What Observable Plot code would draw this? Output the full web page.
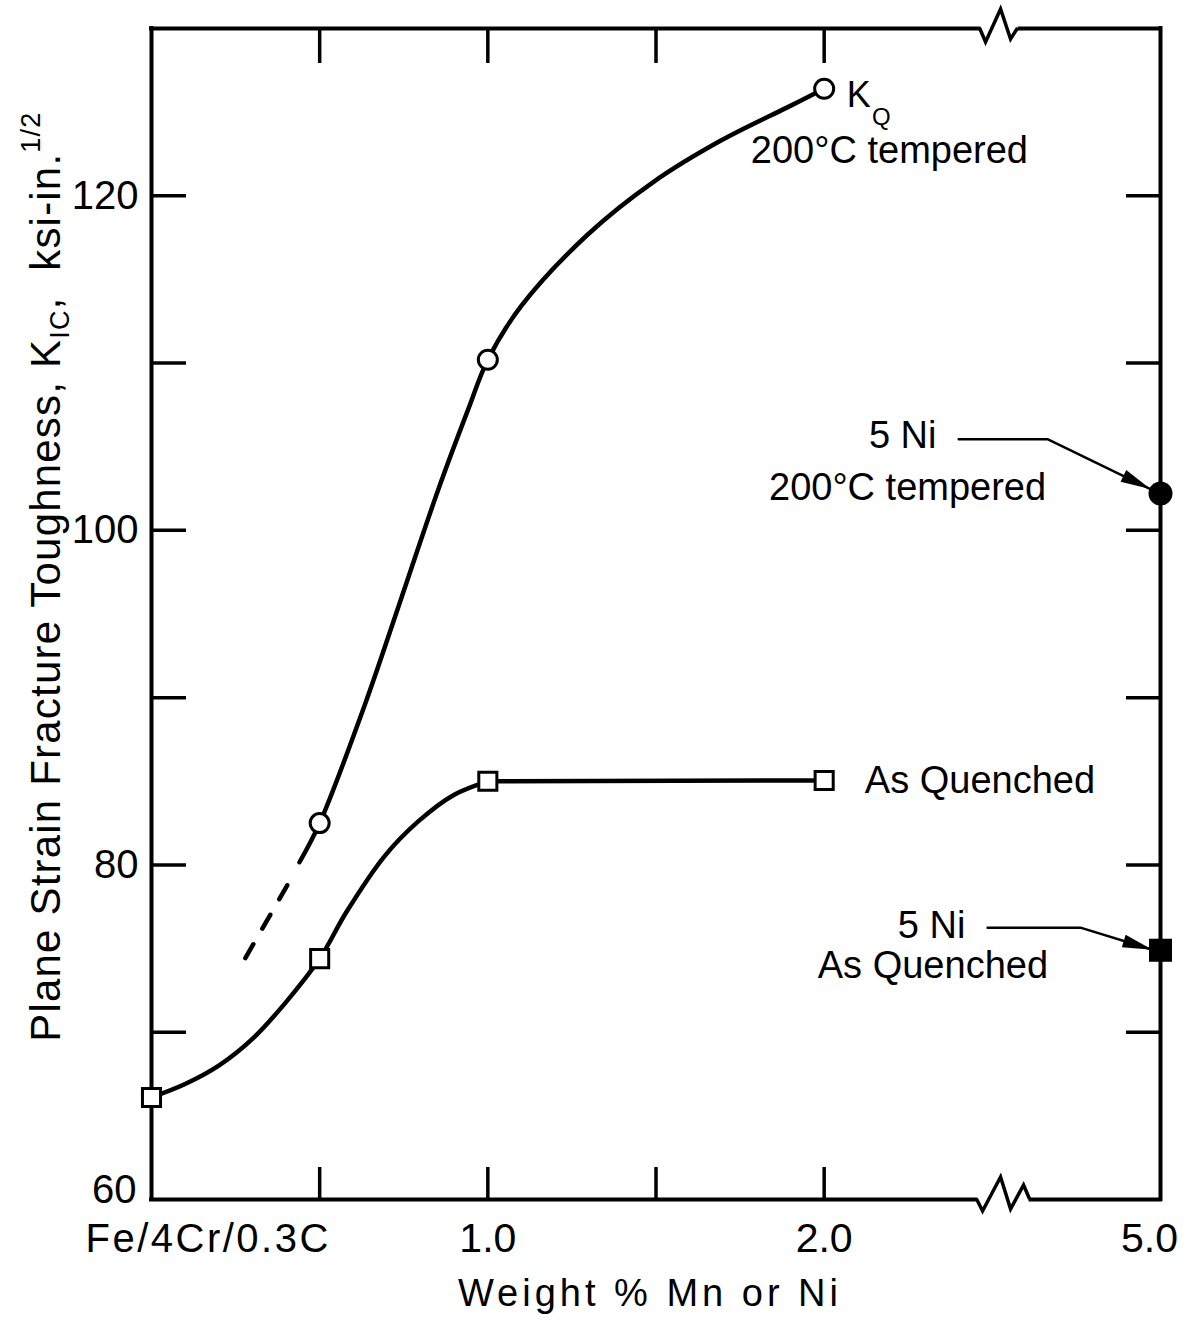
<!DOCTYPE html>
<html><head><meta charset="utf-8">
<script src="https://cdn.jsdelivr.net/npm/d3@7"></script>
<script src="https://cdn.jsdelivr.net/npm/@observablehq/plot@0.6"></script>
<style>html,body{margin:0;padding:0;background:#fff}</style>
</head><body><div id="chart"></div>
<script>
// ---- data (x position: 0 = Fe/4Cr/0.3C base, 0.5..2.0 wt%, 3 = 5.0 wt% beyond the axis break)
const temperedX = [0.5, 1.0, 2.0];
const temperedY = [82.5, 110.2, 126.4];
const quenchedX = [0, 0.5, 1.0, 2.0];
const quenchedY = [66.1, 74.4, 85.0, 85.05];
const ni5X = [3];
const ni5TemperedY = [102.2];
const ni5QuenchedY = [74.9];

// smooth curves
const temperedCurveX = [0.44, 0.5, 0.633, 0.742, 0.852, 0.941, 1.0, 1.099, 1.298, 1.494, 1.693, 1.892, 2.0];
const temperedCurveY = [80.16, 82.5, 89.5, 95.9, 102.4, 107.2, 110.2, 113.4, 117.7, 120.85, 123.3, 125.3, 126.4];
const temperedDashX = [0.279, 0.407];
const temperedDashY = [74.43, 78.9];
const quenchedCurveX = [0, 0.1, 0.2, 0.3, 0.4, 0.5, 0.58, 0.692, 0.793, 0.9, 1.0];
const quenchedCurveY = [66.1, 66.9, 68.0, 69.6, 71.8, 74.4, 77.2, 80.5, 82.6, 84.2, 85.0];
const quenchedFlatX = [1.0, 2.0];
const quenchedFlatY = [85.0, 85.05];

// axes
const xTickValues = [0, 1, 2, 3];
const xTickLabels = ["Fe/4Cr/0.3C", "1.0", "2.0", "5.0"];
const xMinorTicks = [0.5, 1.0, 1.5, 2.0];
const yTickValues = [60, 80, 100, 120];
const yTickLabels = ["60", "80", "100", "120"];
const yMinorTicks = [70, 80, 90, 100, 110, 120];
const xBreakAt = 2.52;
const xLabel = "Weight % Mn or Ni";

// annotations
const annoText = ["200°C tempered", "5 Ni", "200°C tempered", "As Quenched", "5 Ni", "As Quenched"];
const annoX = [1.782, 2.133, 1.836, 2.121, 2.219, 1.981];
const annoY = [121.95, 104.9, 101.81, 84.31, 75.65, 73.26];
const arrowId = ["a", "a", "a", "b", "b", "b"];
const arrowX = [2.40, 2.664, 2.97, 2.486, 2.762, 2.976];
const arrowY = [105.45, 105.45, 102.47, 76.25, 76.25, 74.93];

const FONT = "'Liberation Sans', Arial, sans-serif";
const tbl = (xs, ys) => xs.map((x, i) => ({x, y: ys[i]}));

function arrowHead(color, context) {
  const ns = "http://www.w3.org/2000/svg";
  const doc = (context && context.document) || document;
  const m = doc.createElementNS(ns, "marker");
  m.setAttribute("viewBox", "-32 -8 32 16");
  m.setAttribute("markerWidth", 32);
  m.setAttribute("markerHeight", 16);
  m.setAttribute("markerUnits", "userSpaceOnUse");
  m.setAttribute("orient", "auto");
  m.setAttribute("refX", 0);
  m.setAttribute("refY", 0);
  const p = doc.createElementNS(ns, "path");
  p.setAttribute("d", "M-30,-6.5L0,0L-30,6.5Z");
  p.setAttribute("fill", color);
  p.setAttribute("stroke", "none");
  m.appendChild(p);
  return m;
}

function axisBreaks(index, scales) {
  const g = d3.create("svg:g");
  const xt = scales.x(xBreakAt), yt = scales.y(130), yb = scales.y(60);
  g.append("rect").attr("x", xt - 18).attr("y", yt - 4).attr("width", 37).attr("height", 8).attr("fill", "white");
  g.append("path").attr("d", `M${xt-19},${yt}L${xt-13},${yt+14}L${xt+2},${yt-19}L${xt+12},${yt+11}L${xt+19},${yt}`)
    .attr("fill", "none").attr("stroke", "black").attr("stroke-width", 3.5).attr("stroke-linejoin", "miter");
  const xb = xt + 4;
  g.append("rect").attr("x", xb - 25).attr("y", yb - 4).attr("width", 51).attr("height", 8).attr("fill", "white");
  g.append("path").attr("d", `M${xb-26},${yb}L${xb-20},${yb+12}L${xb-2},${yb-22}L${xb+8},${yb+10}L${xb+21},${yb-14}L${xb+27},${yb}`)
    .attr("fill", "none").attr("stroke", "black").attr("stroke-width", 3.5).attr("stroke-linejoin", "miter");
  return g.node();
}

function yAxisLabel(index, scales) {
  const t = d3.create("svg:text")
    .attr("transform", `translate(60,${scales.y(97.2)}) rotate(-90)`)
    .attr("text-anchor", "middle").attr("font-family", FONT).attr("font-size", 42)
    .attr("letter-spacing", "1.2px").attr("fill", "black");
  t.append("tspan").text("Plane Strain Fracture Toughness, K");
  t.append("tspan").attr("font-size", 27).attr("dy", 9).text("IC");
  t.append("tspan").attr("dy", -9).text(",  ksi-in.");
  t.append("tspan").attr("font-size", 27).attr("dy", -20).text("1/2");
  return t.node();
}

const chart = Plot.plot({
  width: 1193, height: 1320,
  marginLeft: 151, marginRight: 33, marginTop: 28, marginBottom: 121,
  x: {domain: [0, 3]},
  y: {domain: [60, 130]},
  style: {fontFamily: FONT, background: "white", color: "black"},
  marks: [
    Plot.ruleX([0, 3], {strokeWidth: 4, strokeLinecap: "square"}),
    Plot.ruleY([60, 130], {strokeWidth: 4, strokeLinecap: "square"}),
    Plot.axisY({ticks: yMinorTicks, anchor: "left", tickSize: -35, fill: "none", strokeWidth: 3.5, label: null}),
    Plot.axisY({ticks: yMinorTicks, anchor: "right", tickSize: -35, fill: "none", strokeWidth: 3.5, label: null}),
    Plot.axisX({ticks: xMinorTicks, anchor: "bottom", tickSize: -32, fill: "none", strokeWidth: 3.5, label: null}),
    Plot.axisX({ticks: xMinorTicks, anchor: "top", tickSize: -34, fill: "none", strokeWidth: 3.5, label: null}),
    axisBreaks,
    // curves
    Plot.line(tbl(temperedDashX, temperedDashY), {x: "x", y: "y", strokeWidth: 4.5, strokeDasharray: "16,18", strokeLinecap: "round"}),
    Plot.line(tbl(temperedCurveX, temperedCurveY), {x: "x", y: "y", curve: "catmull-rom", strokeWidth: 4.5}),
    Plot.line(tbl(quenchedCurveX, quenchedCurveY), {x: "x", y: "y", curve: "catmull-rom", strokeWidth: 4.5}),
    Plot.line(tbl(quenchedFlatX, quenchedFlatY), {x: "x", y: "y", strokeWidth: 4.5}),
    // markers
    Plot.dot(tbl(temperedX, temperedY), {x: "x", y: "y", r: 9.5, fill: "white", stroke: "black", strokeWidth: 3}),
    Plot.dot(tbl(quenchedX, quenchedY), {x: "x", y: "y", symbol: "square", r: 10.2, fill: "white", stroke: "black", strokeWidth: 3}),
    Plot.dot(tbl(ni5X, ni5TemperedY), {x: "x", y: "y", r: 12, fill: "black"}),
    Plot.dot(tbl(ni5X, ni5QuenchedY), {x: "x", y: "y", symbol: "square", r: 13, fill: "black"}),
    // arrows
    Plot.line(arrowX.map((x, i) => ({x, y: arrowY[i], id: arrowId[i]})), {x: "x", y: "y", z: "id", strokeWidth: 2.5, markerEnd: arrowHead}),
    // tick labels
    Plot.text(yTickLabels.slice(0, 1), {x: 0, y: yTickValues[0], text: d => d, textAnchor: "end", dx: -15, dy: -9, fontSize: 40}),
    Plot.text(yTickLabels.slice(1), {x: 0, y: (d, i) => yTickValues[i + 1], text: d => d, textAnchor: "end", dx: -13, fontSize: 40}),
    Plot.text(xTickLabels.slice(0, 1), {x: xTickValues[0], y: 60, text: d => d, textAnchor: "start", dx: -66, dy: 52, lineAnchor: "bottom", fontSize: 40}),
    Plot.text(xTickLabels.slice(1, 3), {x: (d, i) => xTickValues[i + 1], y: 60, text: d => d, textAnchor: "middle", dy: 52, lineAnchor: "bottom", fontSize: 41}),
    Plot.text(xTickLabels.slice(3), {x: xTickValues[3], y: 60, text: d => d, textAnchor: "middle", dx: -11, dy: 52, lineAnchor: "bottom", fontSize: 41}),
    Plot.text([xLabel], {x: 1.482, y: 60, text: d => d, textAnchor: "middle", dy: 106, lineAnchor: "bottom", fontSize: 38}),
    // annotations
    Plot.text(annoText, {x: (d, i) => annoX[i], y: (d, i) => annoY[i], text: d => d, textAnchor: "start", lineAnchor: "bottom", fontSize: 38}),
    Plot.text(["K"], {x: 2.067, y: 125.28, text: d => d, textAnchor: "start", lineAnchor: "bottom", fontSize: 36}),
    Plot.text(["Q"], {x: 2.142, y: 124.25, text: d => d, textAnchor: "start", lineAnchor: "bottom", fontSize: 24}),
    yAxisLabel
  ]
});
// letter spacing for axis title and first tick label
d3.select(chart).selectAll("text").filter(function() { return this.textContent === xLabel || this.textContent === xTickLabels[0]; })
  .style("letter-spacing", function() { return this.textContent === xLabel ? "4px" : "2.5px"; });
document.getElementById("chart").appendChild(chart);
</script>
</body></html>
